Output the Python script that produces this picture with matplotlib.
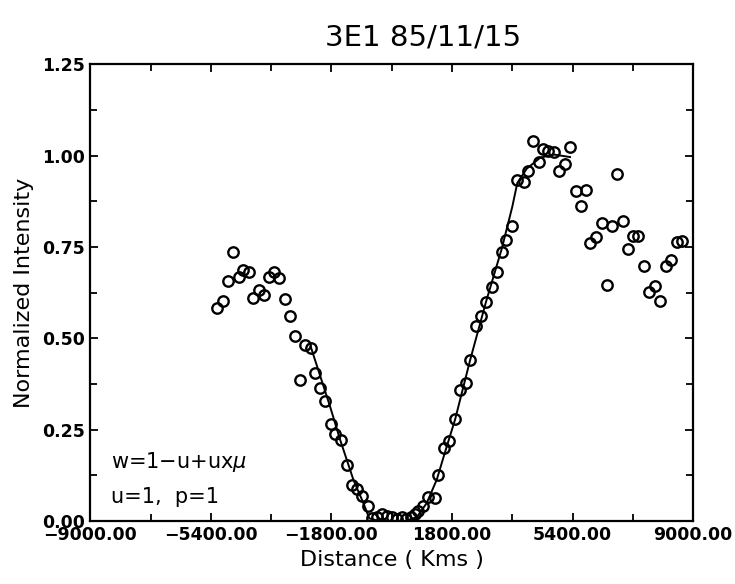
import numpy as np
import matplotlib
matplotlib.use("Agg")
import matplotlib.pyplot as plt
from matplotlib.ticker import MultipleLocator, FuncFormatter

# observed points (distance in km, normalized intensity)
obs_d = [-5208, -5030, -4881, -4732, -4571, -4433, -4263, -4143, -3964, -3815,
         -3675, -3507, -3358, -3188, -3048, -2880, -2740, -2581, -2420, -2283,
         -2142, -1990, -1823, -1694, -1515, -1345, -1195, -1028, -879, -718,
         -598, -448, -299, -150, 0, 150, 299, 427, 567, 696,
         794, 943, 1093, 1292, 1392, 1571, 1720, 1890, 2040, 2219,
         2338, 2508, 2667, 2816, 2986, 3135, 3285, 3413, 3584, 3751,
         3951, 4080, 4229, 4399, 4528, 4677, 4856, 5006, 5176, 5325,
         5504, 5653, 5788, 5931, 6101, 6271, 6440, 6589, 6737, 6918,
         7066, 7216, 7365, 7535, 7694, 7864, 8013, 8183, 8342, 8512, 8661]
obs_v = [0.582, 0.602, 0.657, 0.737, 0.668, 0.686, 0.680, 0.609, 0.633, 0.618,
         0.668, 0.680, 0.666, 0.607, 0.560, 0.506, 0.387, 0.482, 0.474, 0.406,
         0.363, 0.328, 0.266, 0.238, 0.222, 0.152, 0.097, 0.087, 0.069, 0.041,
         0.008, 0.012, 0.018, 0.014, 0.010, 0.006, 0.010, 0.006, 0.010, 0.018,
         0.026, 0.041, 0.065, 0.062, 0.126, 0.200, 0.220, 0.280, 0.357, 0.378,
         0.440, 0.534, 0.561, 0.600, 0.639, 0.680, 0.735, 0.770, 0.807, 0.934,
         0.929, 0.959, 1.039, 0.983, 1.017, 1.013, 1.010, 0.957, 0.978, 1.024,
         0.902, 0.863, 0.905, 0.762, 0.777, 0.815, 0.646, 0.807, 0.949, 0.821,
         0.745, 0.779, 0.779, 0.699, 0.626, 0.644, 0.603, 0.697, 0.715, 0.763, 0.767]

# model curve
fit_d = [-2420, -1845, -1545, -1147, -848, -670, -400, 0, 400, 746,
         1045, 1344, 1643, 1890, 2340, 2816, 3285, 3600, 3750, 4030,
         4430, 4830, 5325]
fit_v = [0.477, 0.314, 0.223, 0.113, 0.049, 0.007, 0.0, 0.0, 0.0, 0.010,
         0.049, 0.113, 0.204, 0.277, 0.440, 0.600, 0.745, 0.860, 0.925, 0.964,
         0.994, 1.003, 0.996]

xticks = [-9000, -5400, -1800, 1800, 5400, 9000]
xminor = [-7200, -3600, 0, 3600, 7200]

fig = plt.figure(figsize=(7.35, 5.84), dpi=100)
ax = fig.add_axes([0.123, 0.108, 0.820, 0.782])

ax.plot(fit_d, fit_v, color='black', linewidth=1.4, zorder=2)
ax.plot(obs_d, obs_v, 'o', markersize=7.5, markerfacecolor='none',
        markeredgecolor='black', markeredgewidth=1.7, zorder=3)

ax.set_xlim(-9000, 9000)
ax.set_ylim(0, 1.25)
ax.set_xticks(xticks)
ax.set_xticks(xminor, minor=True)
ax.yaxis.set_major_locator(MultipleLocator(0.25))
ax.yaxis.set_minor_locator(MultipleLocator(0.125))
fmt = FuncFormatter(lambda x, p: ('%.2f' % x).replace('-', '\u2212'))
ax.xaxis.set_major_formatter(fmt)
ax.yaxis.set_major_formatter(fmt)
ax.tick_params(which='both', direction='in', top=True, right=True,
               width=1.3, labelsize=12.5)
ax.tick_params(which='major', length=6, pad=4)
ax.tick_params(which='minor', length=5)
for lab in ax.get_xticklabels() + ax.get_yticklabels():
    lab.set_fontweight('bold')
for s in ax.spines.values():
    s.set_linewidth(1.6)

ax.set_xlabel('Distance ( Kms )', fontsize=16, labelpad=4, fontweight='medium')
ax.set_ylabel('Normalized Intensity', fontsize=16, labelpad=6, fontweight='medium')

ax.text(0.035, 0.129, r'w=1$-$u+ux$\mu$', transform=ax.transAxes,
        fontsize=15, va='center')
ax.text(0.035, 0.052, 'u=1,  p=1', transform=ax.transAxes,
        fontsize=15, va='center')

fig.text(0.575, 0.935, '3E1 85/11/15', ha='center', va='center', fontsize=21)

fig.savefig('out.png', dpi=100)
